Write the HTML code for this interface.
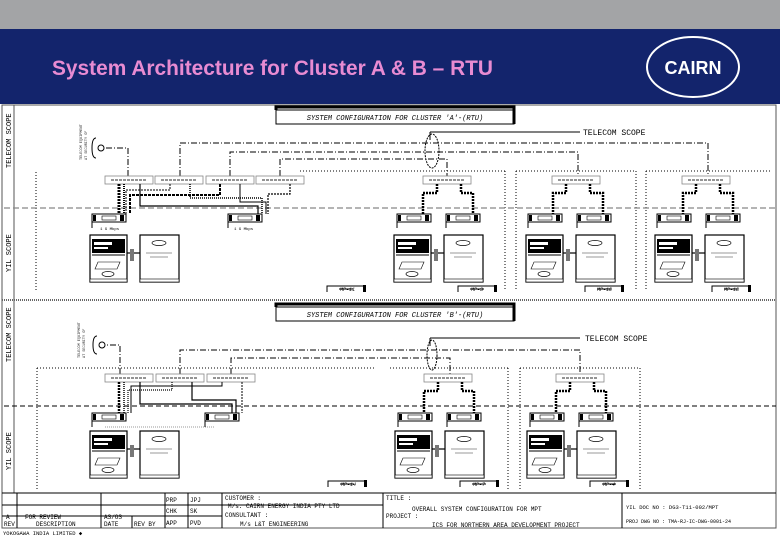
<!DOCTYPE html>
<html><head><meta charset="utf-8"><style>
html,body{margin:0;padding:0;background:#fff}
svg{display:block}
text{font-family:"Liberation Mono",monospace}
</style></head><body>
<svg width="780" height="540" viewBox="0 0 780 540" xmlns="http://www.w3.org/2000/svg">
<defs>
<g id="cab">
 <rect x="0" y="0" width="37" height="47" fill="#fff" stroke="#000" stroke-width="1.2"/>
 <rect x="2" y="4" width="33" height="14" fill="#000"/>
 <rect x="4" y="7" width="18" height="3" fill="#fff"/>
 <rect x="4" y="12" width="14" height="2" fill="#fff"/>
 <line x1="2" y1="20" x2="35" y2="20" stroke="#000"/>
 <path d="M8 27 L30 27 L27 34 L5 34 Z" fill="none" stroke="#000" stroke-width=".6"/>
 <ellipse cx="18" cy="39" rx="6" ry="2.5" fill="none" stroke="#000" stroke-width=".7"/>
 <rect x="0" y="44" width="37" height="3" fill="#fff" stroke="#000" stroke-width=".6"/>
 <line x1="37" y1="18" x2="50" y2="18" stroke="#000" stroke-width="1.2"/>
 <rect x="40" y="14" width="4" height="12" fill="#777"/>
 <rect x="50" y="0" width="39" height="47" fill="#fff" stroke="#000" stroke-width="1.2"/>
 <ellipse cx="69" cy="8" rx="7" ry="2.5" fill="none" stroke="#000" stroke-width=".7"/>
 <line x1="56" y1="18" x2="82" y2="18" stroke="#999" stroke-width="1"/>
 <line x1="60" y1="22" x2="78" y2="22" stroke="#999" stroke-width="1"/>
 <rect x="50" y="44" width="39" height="3" fill="#fff" stroke="#000" stroke-width=".6"/>
</g>
<g id="sw">
 <rect x="0" y="0" width="34" height="8" fill="#fff" stroke="#000" stroke-width="1"/>
 <rect x="10" y="2" width="14" height="4" fill="#fff" stroke="#000" stroke-width=".6"/>
 <rect x="1" y="1" width="3" height="6" fill="#000"/>
 <rect x="28" y="1" width="4" height="6" fill="#000"/>
 <line x1="0" y1="8" x2="0" y2="14" stroke="#000"/>
</g>
<g id="unit">
 <rect x="0" y="0" width="48" height="8" fill="#fff" stroke="#888" stroke-width=".8"/>
 <line x1="6" y1="4" x2="42" y2="4" stroke="#555" stroke-width="1.2" stroke-dasharray="3 1"/>
</g>
<g id="mp">
 <path d="M0 7 L0 1 L38 1 L38 7" fill="none" stroke="#000" stroke-width="1"/>
 <rect x="36" y="0" width="3" height="7" fill="#000"/>
 <line x1="12" y1="4" x2="26" y2="4" stroke="#000" stroke-width="1"/>
</g>
</defs>

<!-- header -->
<rect x="0" y="0" width="780" height="29" fill="#a3a4a6"/>
<rect x="0" y="29" width="780" height="75" fill="#13246c"/>
<text x="52" y="75" font-weight="bold" font-size="21" fill="#e88bd2" textLength="441" lengthAdjust="spacingAndGlyphs" style="font-family:'Liberation Sans',sans-serif">System Architecture for Cluster A &amp; B – RTU</text>
<ellipse cx="693" cy="67" rx="46" ry="30" fill="none" stroke="#fff" stroke-width="2"/>
<text x="693" y="74" text-anchor="middle" font-size="18" font-weight="bold" fill="#fff" style="font-family:'Liberation Sans',sans-serif">CAIRN</text>

<!-- frame -->
<rect x="2" y="105" width="774" height="423" fill="#fff" stroke="#555" stroke-width="1"/>
<line x1="14" y1="105" x2="14" y2="493" stroke="#555"/>
<line x1="2" y1="300" x2="776" y2="300" stroke="#666" stroke-width="2" stroke-dasharray="1 1"/>
<g font-size="7" fill="#000">
<text transform="translate(11,168) rotate(-90)">TELECOM SCOPE</text>
<text transform="translate(11,272) rotate(-90)">YIL SCOPE</text>
<text transform="translate(11,362) rotate(-90)">TELECOM SCOPE</text>
<text transform="translate(11,470) rotate(-90)">YIL SCOPE</text>
</g>

<!-- ============ CLUSTER A ============ -->
<rect x="276" y="110" width="238" height="14" fill="#fff" stroke="#000"/>
<path d="M276 110 L276 107 L514 107 L514 124" fill="none" stroke="#000" stroke-width="3"/>
<text x="395" y="120" text-anchor="middle" font-size="7" font-style="italic">SYSTEM CONFIGURATION FOR CLUSTER 'A'-(RTU)</text>

<line x1="430" y1="132" x2="580" y2="132" stroke="#000"/>
<line x1="430" y1="132" x2="430" y2="140" stroke="#000"/>
<text x="583" y="135" font-size="8">TELECOM SCOPE</text>
<ellipse cx="432" cy="151" rx="7" ry="17" fill="none" stroke="#000" stroke-dasharray="2 1"/>

<g fill="none" stroke="#000" stroke-width="1" stroke-dasharray="6 2 1 2">
<path d="M180 176 L180 143 L708 143 L708 176"/>
<path d="M230 176 L230 152 L578 152 L578 176"/>
<path d="M280 176 L280 159 L447 159 L447 176"/>
<path d="M128 176 L128 148 L105 148"/>
</g>
<circle cx="101" cy="148" r="3" fill="none" stroke="#000"/>
<path d="M96 138 Q92 138 92 148 Q92 158 96 158" fill="none" stroke="#000"/>
<g font-size="3.5" fill="#333">
<text transform="translate(82,160) rotate(-90)">TELECOM EQUIPMENT</text>
<text transform="translate(87,160) rotate(-90)">AT SECURITY OF</text>
</g>

<g stroke="#000" stroke-dasharray="1 2" fill="none">
<line x1="36" y1="172" x2="36" y2="290"/>
<line x1="300" y1="171" x2="505" y2="171"/>
<line x1="505" y1="171" x2="505" y2="290"/>
<line x1="516" y1="171" x2="636" y2="171"/>
<line x1="516" y1="171" x2="516" y2="290"/>
<line x1="636" y1="171" x2="636" y2="290"/>
<line x1="646" y1="171" x2="770" y2="171"/>
<line x1="646" y1="171" x2="646" y2="290"/>
</g>

<use href="#unit" x="105" y="176"/>
<use href="#unit" x="155" y="176"/>
<use href="#unit" x="206" y="176"/>
<use href="#unit" x="256" y="176"/>
<use href="#unit" x="423" y="176"/>
<use href="#unit" x="552" y="176"/>
<use href="#unit" x="682" y="176"/>

<line x1="4" y1="208" x2="776" y2="208" stroke="#888" stroke-width="1.2" stroke-dasharray="6 3"/>

<g fill="none" stroke="#000">
<path d="M119 184 L119 214" stroke-width="3" stroke-dasharray="2 1"/>
<path d="M124 184 L124 214" stroke-width="2" stroke-dasharray="1 1"/>
<path d="M140 184 L140 206 L258 206 L258 214" stroke-width="1.2"/>
<path d="M170 184 L170 190 L126 190 L126 214" stroke-width="1" stroke-dasharray="2 1"/>
<path d="M190 184 L190 198 L262 198 L262 214" stroke-width="1.5" stroke-dasharray="1 1"/>
<path d="M220 184 L220 195 L130 195 L130 214" stroke-width="2" stroke-dasharray="3 1"/>
<path d="M240 184 L240 202 L266 202 L266 214" stroke-width="1"/>
<path d="M290 184 L290 194 L268 194 L268 214" stroke-width="1.2" stroke-dasharray="2 1"/>
</g>
<use href="#sw" x="92" y="214"/>
<use href="#sw" x="228" y="214"/>
<g font-size="4"><text x="100" y="230">1 G Mbps</text><text x="234" y="230">1 G Mbps</text></g>
<use href="#cab" x="90" y="235"/>

<g fill="none" stroke="#000" stroke-width="2.5" stroke-dasharray="2 1">
<path d="M437 184 L437 193 L423 193 L423 214"/><path d="M461 184 L461 193 L473 193 L473 214"/>
<path d="M566 184 L566 193 L553 193 L553 214"/><path d="M590 184 L590 193 L603 193 L603 214"/>
<path d="M696 184 L696 193 L683 193 L683 214"/><path d="M720 184 L720 193 L733 193 L733 214"/>
</g>
<use href="#sw" x="397" y="214"/><use href="#sw" x="446" y="214"/>
<use href="#sw" x="528" y="214"/><use href="#sw" x="577" y="214"/>
<use href="#sw" x="657" y="214"/><use href="#sw" x="706" y="214"/>
<use href="#cab" x="394" y="235"/>
<use href="#cab" x="526" y="235"/>
<use href="#cab" x="655" y="235"/>

<g font-size="5" font-style="italic">
<use href="#mp" x="327" y="285"/><text x="340" y="291">MP-11</text>
<use href="#mp" x="458" y="285"/><text x="471" y="291">MP-3</text>
<use href="#mp" x="585" y="285"/><text x="597" y="291">MP-10</text>
<use href="#mp" x="712" y="285"/><text x="724" y="291">MP-18</text>
</g>

<!-- ============ CLUSTER B ============ -->
<rect x="276" y="307" width="238" height="14" fill="#fff" stroke="#000"/>
<path d="M276 307 L276 304 L514 304 L514 321" fill="none" stroke="#000" stroke-width="3"/>
<text x="395" y="317" text-anchor="middle" font-size="7" font-style="italic">SYSTEM CONFIGURATION FOR CLUSTER 'B'-(RTU)</text>

<line x1="430" y1="338" x2="580" y2="338" stroke="#000"/>
<line x1="430" y1="338" x2="430" y2="346" stroke="#000"/>
<text x="585" y="341" font-size="8">TELECOM SCOPE</text>
<ellipse cx="432" cy="355" rx="5" ry="15" fill="none" stroke="#000" stroke-dasharray="2 1"/>
<g fill="none" stroke="#000" stroke-width="1" stroke-dasharray="6 2 1 2">
<path d="M180 374 L180 350 L580 350 L580 374"/>
<path d="M231 374 L231 358 L450 358 L450 374"/>
<path d="M120 374 L120 345 L106 345"/>
</g>
<circle cx="102" cy="345" r="3" fill="none" stroke="#000"/>
<path d="M97 336 Q93 336 93 345 Q93 354 97 354" fill="none" stroke="#000"/>
<g font-size="3.5" fill="#333">
<text transform="translate(80,358) rotate(-90)">TELECOM EQUIPMENT</text>
<text transform="translate(85,358) rotate(-90)">AT SECURITY OF</text>
</g>
<g stroke="#000" stroke-dasharray="1 2" fill="none">
<line x1="37" y1="368" x2="375" y2="368"/>
<line x1="37" y1="368" x2="37" y2="490"/>
<line x1="390" y1="368" x2="508" y2="368"/>
<line x1="508" y1="368" x2="508" y2="490"/>
<line x1="520" y1="368" x2="640" y2="368"/>
<line x1="520" y1="368" x2="520" y2="490"/>
<line x1="640" y1="368" x2="640" y2="490"/>
</g>
<use href="#unit" x="105" y="374"/>
<use href="#unit" x="156" y="374"/>
<use href="#unit" x="207" y="374"/>
<use href="#unit" x="424" y="374"/>
<use href="#unit" x="556" y="374"/>
<line x1="4" y1="406" x2="776" y2="406" stroke="#000" stroke-width="1" stroke-dasharray="5 3"/>
<g fill="none" stroke="#000">
<path d="M119 382 L119 413" stroke-width="2.5" stroke-dasharray="2 1"/>
<path d="M124 382 L124 413" stroke-width="1.5" stroke-dasharray="1 1"/>
<path d="M140 382 L140 404 L232 404 L232 413" stroke-width="1.2"/>
<path d="M172 382 L172 390 L128 390 L128 413" stroke-width="1.2" stroke-dasharray="1 1"/>
<path d="M192 382 L192 400 L236 400 L236 413" stroke-width="1.2"/>
<path d="M222 382 L222 386 L131 386 L131 413" stroke-width="1"/>
<path d="M242 382 L242 413" stroke-width="1" stroke-dasharray="2 1"/>
</g>
<g fill="none" stroke="#000" stroke-width="2.5" stroke-dasharray="2 1">
<path d="M438 382 L438 391 L424 391 L424 413"/><path d="M462 382 L462 391 L474 391 L474 413"/>
<path d="M570 382 L570 391 L556 391 L556 413"/><path d="M594 382 L594 391 L606 391 L606 413"/>
</g>
<line x1="105" y1="427" x2="215" y2="427" stroke="#999" stroke-dasharray="1 1"/>
<use href="#sw" x="92" y="413"/><use href="#sw" x="205" y="413"/>
<use href="#sw" x="398" y="413"/><use href="#sw" x="447" y="413"/>
<use href="#sw" x="530" y="413"/><use href="#sw" x="579" y="413"/>
<use href="#cab" x="90" y="431"/>
<use href="#cab" x="395" y="431"/>
<use href="#cab" x="527" y="431"/>
<g font-size="5" font-style="italic">
<use href="#mp" x="328" y="480"/><text x="341" y="486">MP-14</text>
<use href="#mp" x="460" y="480"/><text x="473" y="486">MP-7</text>
<use href="#mp" x="590" y="480"/><text x="603" y="486">MP-4</text>
</g>

<!-- title block -->
<g stroke="#000" stroke-width="1" fill="none">
<line x1="2" y1="493" x2="776" y2="493"/>
<line x1="2" y1="505" x2="383" y2="505"/>
<line x1="2" y1="516" x2="222" y2="516"/>
<line x1="17" y1="493" x2="17" y2="528"/>
<line x1="101" y1="493" x2="101" y2="528"/>
<line x1="132" y1="516" x2="132" y2="528"/>
<line x1="165" y1="493" x2="165" y2="528"/>
<line x1="188" y1="493" x2="188" y2="528"/>
<line x1="222" y1="493" x2="222" y2="528"/>
<line x1="383" y1="493" x2="383" y2="528"/>
<line x1="622" y1="493" x2="622" y2="528"/>
</g>
<g font-size="6" fill="#000">
<text x="166" y="502">PRP</text><text x="190" y="502">JPJ</text>
<text x="166" y="513">CHK</text><text x="190" y="513">SK</text>
<text x="166" y="525">APP</text><text x="190" y="525">PVD</text>
<text x="6" y="519">A</text><text x="4" y="526">REV</text>
<text x="25" y="519">FOR REVIEW</text><text x="36" y="526">DESCRIPTION</text>
<text x="104" y="519">AS/OS</text><text x="104" y="526">DATE</text>
<text x="134" y="526">REV BY</text>
<text x="225" y="500">CUSTOMER :</text>
<text x="228" y="508">M/s. CAIRN ENERGY INDIA PTY LTD</text>
<text x="225" y="517">CONSULTANT :</text>
<text x="240" y="526">M/s  L&amp;T ENGINEERING</text>
<text x="386" y="500">TITLE :</text>
<text x="412" y="511">OVERALL SYSTEM CONFIGURATION FOR MPT</text>
<text x="386" y="518">PROJECT :</text>
<text x="432" y="527">ICS FOR NORTHERN AREA DEVELOPMENT PROJECT</text>
<text x="626" y="509" font-size="5.5">YIL DOC NO : DG3-T11-002/MPT</text>
<text x="626" y="523" font-size="5">PROJ DWG NO : TMA-RJ-IC-DWG-0001-24</text>
<text x="3" y="535" font-size="5.5">YOKOGAWA INDIA LIMITED ◆</text>
</g>
</svg>
</body></html>
